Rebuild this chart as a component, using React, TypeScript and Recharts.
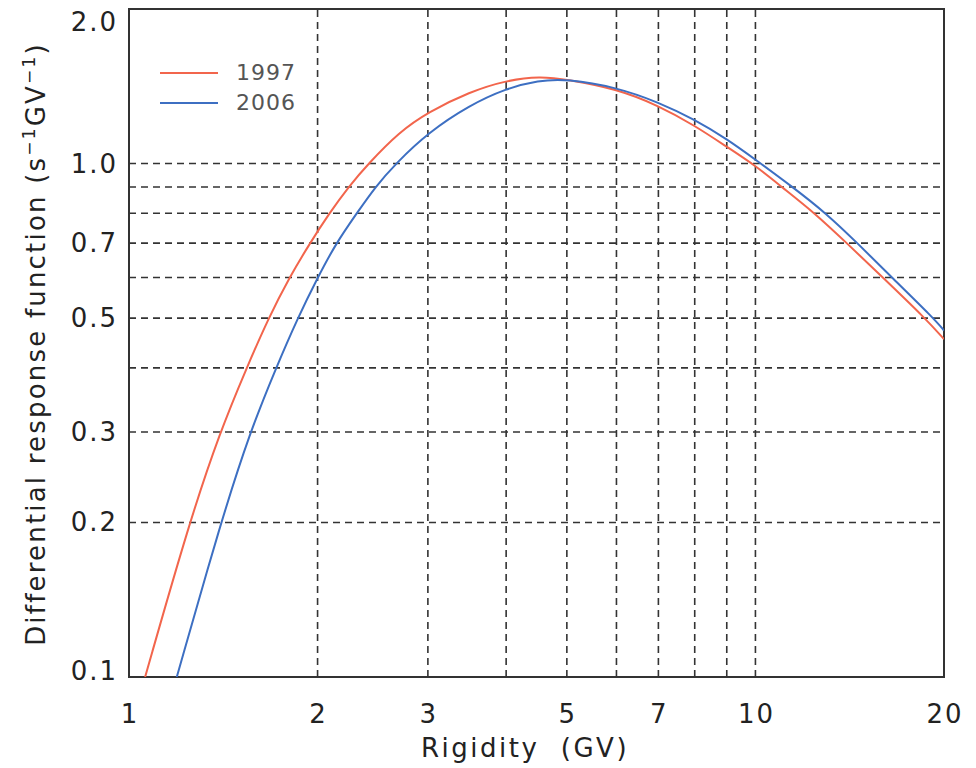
import React from "react";
import {
  LineChart,
  Line,
  XAxis,
  YAxis,
  ReferenceLine,
  ReferenceArea,
  Label,
} from "recharts";

// rigidity (GV) / differential response (s^-1 GV^-1)
const rigidity1997 = [
  1.061, 1.248, 1.397, 1.541, 1.67, 1.803, 1.945, 2.088, 2.239, 2.411, 2.7, 3,
  3.5, 4, 4.53, 5, 6, 7, 8, 9, 10, 11.02, 12.45, 13.99, 15.97, 18.66, 20,
];
const response1997 = [
  0.1, 0.2, 0.3, 0.4, 0.5, 0.6, 0.7, 0.8, 0.9, 1.0, 1.152, 1.259, 1.38, 1.452,
  1.479, 1.458, 1.398, 1.297, 1.186, 1.078, 0.991, 0.9, 0.8, 0.7, 0.6, 0.5,
  0.455,
];
const rigidity2006 = [
  1.192, 1.401, 1.56, 1.717, 1.859, 2.001, 2.141, 2.31, 2.471, 2.666, 3, 3.5,
  4, 4.5, 5, 6, 7, 8, 9, 10, 11.47, 12.97, 14.55, 16.51, 19.24, 20,
];
const response2006 = [
  0.1, 0.2, 0.3, 0.4, 0.5, 0.6, 0.7, 0.8, 0.9, 1.0, 1.148, 1.3, 1.4, 1.452,
  1.462, 1.408, 1.317, 1.218, 1.117, 1.018, 0.9, 0.8, 0.7, 0.6, 0.5, 0.473,
];

const xTicks = [1, 2, 3, 5, 7, 10, 20];
const yTicks = [0.1, 0.2, 0.3, 0.5, 0.7, 1.0, 2.0];
const xGrid = [2, 3, 4, 5, 6, 7, 8, 9, 10];
const yGrid = [0.2, 0.3, 0.4, 0.5, 0.6, 0.7, 0.8, 0.9, 1.0];
const seriesNames = ["1997", "2006"];

const RED = "#f2654c";
const BLUE = "#3d6fc2";
const INK = "#333";
const FONT = "DejaVu Sans, sans-serif";

const data1997 = rigidity1997.map((x, i) => ({ x, y: response1997[i] }));
const data2006 = rigidity2006.map((x, i) => ({ x, y: response2006[i] }));

const XTick = ({ x, y, payload }: any) => (
  <text
    x={x + 1}
    y={y}
    dy={44}
    textAnchor="middle"
    fontSize={26}
    letterSpacing={2}
    fontFamily={FONT}
    fill="#222"
  >
    {payload.value}
  </text>
);

const YTick = ({ x, y, payload }: any) => {
  // top and bottom labels are pushed inside the axis range
  const shift = payload.value === 2 ? 13 : payload.value === 0.1 ? -6 : 0;
  return (
    <text
      x={x - 9}
      y={y}
      dy={9 + shift}
      textAnchor="end"
      fontSize={26}
      letterSpacing={2}
      fontFamily={FONT}
      fill="#222"
    >
      {Number(payload.value).toFixed(1)}
    </text>
  );
};

const YTitle = () => (
  <text
    x={45}
    y={344}
    transform="rotate(-90 45 344)"
    textAnchor="middle"
    fontSize={26}
    letterSpacing={2.2}
    fontFamily={FONT}
    fill="#222"
  >
    Differential response function (s
    <tspan dy={-10} fontSize={17}>−1</tspan>
    <tspan dy={10}>GV</tspan>
    <tspan dy={-10} fontSize={17}>−1</tspan>
    <tspan dy={10}>)</tspan>
  </text>
);

const LegendBox = () => (
  <div
    style={{
      position: "absolute",
      left: 160,
      top: 58,
      fontFamily: FONT,
      fontSize: 22,
      letterSpacing: 1,
      color: "#555",
      lineHeight: "30px",
    }}
  >
    {seriesNames.map((name, i) => (
      <div key={name} style={{ display: "flex", alignItems: "center" }}>
        <span
          style={{
            display: "inline-block",
            width: 58,
            height: 2,
            background: i === 0 ? RED : BLUE,
            marginRight: 18,
          }}
        />
        {name}
      </div>
    ))}
  </div>
);

export default function App() {
  return (
    <div style={{ position: "absolute", left: 0, top: 0, width: 976, height: 768, background: "#fff" }}>
      <LineChart width={976} height={768} margin={{ top: 9, right: 32, bottom: 31, left: 29 }}>
        <XAxis
          dataKey="x"
          type="number"
          scale="log"
          domain={[1, 20]}
          allowDataOverflow
          ticks={xTicks}
          tick={<XTick />}
          tickLine={false}
          axisLine={false}
          tickSize={0}
          height={60}
        >
          <Label
            content={() => (
              <text
                x={525}
                y={757}
                textAnchor="middle"
                fontSize={26}
                letterSpacing={2.5}
                fontFamily={FONT}
                fill="#222"
              >
                Rigidity{"\u00a0\u00a0"}(GV)
              </text>
            )}
          />
        </XAxis>
        <YAxis
          dataKey="y"
          type="number"
          scale="log"
          domain={[0.1, 2]}
          allowDataOverflow
          ticks={yTicks}
          tick={<YTick />}
          tickLine={false}
          axisLine={false}
          tickSize={0}
          width={100}
        >
          <Label content={() => <YTitle />} />
        </YAxis>
        {xGrid.map((v) => (
          <ReferenceLine key={`vx-${v}`} x={v} stroke={INK} strokeWidth={1.6} strokeDasharray="7 5" />
        ))}
        {yGrid.map((v) => (
          <ReferenceLine key={`hy-${v}`} y={v} stroke={INK} strokeWidth={1.6} strokeDasharray="7 5" />
        ))}
        <Line
          data={data1997}
          dataKey="y"
          name={seriesNames[0]}
          type="basis"
          stroke={RED}
          strokeWidth={2}
          dot={false}
          isAnimationActive={false}
        />
        <Line
          data={data2006}
          dataKey="y"
          name={seriesNames[1]}
          type="basis"
          stroke={BLUE}
          strokeWidth={2}
          dot={false}
          isAnimationActive={false}
        />
        <ReferenceArea x1={1} x2={20} y1={0.1} y2={2} fill="none" stroke={INK} strokeWidth={2} ifOverflow="visible" />
      </LineChart>
      <LegendBox />
    </div>
  );
}
